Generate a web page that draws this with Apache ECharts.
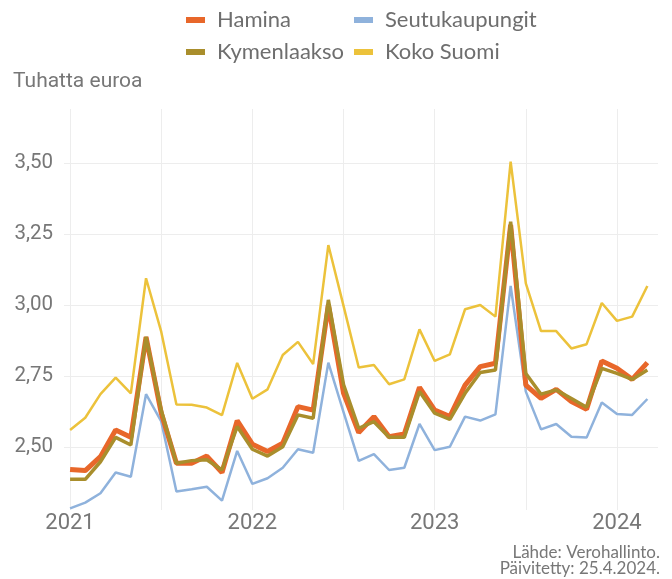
<!DOCTYPE html>
<html>
<head>
<meta charset="utf-8">
<script src="https://cdn.jsdelivr.net/npm/echarts@6/dist/echarts.min.js"></script>
<style>
  html, body { margin: 0; padding: 0; background: #fff; }
  #chart { width: 672px; height: 579px; }
</style>
</head>
<body>
<div id="chart"></div>
<script>
// kuukaudet 1/2021 - 3/2024
const months = [
  '2021-01', '2021-02', '2021-03', '2021-04', '2021-05', '2021-06', '2021-07', '2021-08', '2021-09', '2021-10', '2021-11', '2021-12',
  '2022-01', '2022-02', '2022-03', '2022-04', '2022-05', '2022-06', '2022-07', '2022-08', '2022-09', '2022-10', '2022-11', '2022-12',
  '2023-01', '2023-02', '2023-03', '2023-04', '2023-05', '2023-06', '2023-07', '2023-08', '2023-09', '2023-10', '2023-11', '2023-12',
  '2024-01', '2024-02', '2024-03'
]

const hamina = [
  2.421, 2.417, 2.466, 2.560, 2.534, 2.887, 2.620, 2.443, 2.443, 2.468, 2.410, 2.593,
  2.510, 2.484, 2.513, 2.642, 2.630, 3.000, 2.690, 2.551, 2.607, 2.536, 2.546, 2.710,
  2.630, 2.607, 2.718, 2.783, 2.795, 3.282, 2.718, 2.671, 2.703, 2.660, 2.633, 2.803,
  2.777, 2.738, 2.797
]
const seutukaupungit = [
  2.284, 2.304, 2.337, 2.410, 2.395, 2.686, 2.590, 2.343, 2.351, 2.360, 2.311, 2.486,
  2.370, 2.390, 2.427, 2.492, 2.480, 2.797, 2.623, 2.451, 2.475, 2.419, 2.427, 2.581,
  2.489, 2.501, 2.607, 2.593, 2.615, 3.067, 2.695, 2.562, 2.581, 2.536, 2.533, 2.657,
  2.616, 2.613, 2.669
]
const kymenlaakso = [
  2.386, 2.386, 2.448, 2.534, 2.507, 2.888, 2.630, 2.443, 2.452, 2.455, 2.419, 2.572,
  2.492, 2.468, 2.501, 2.613, 2.601, 3.018, 2.720, 2.566, 2.589, 2.534, 2.534, 2.695,
  2.619, 2.597, 2.689, 2.762, 2.771, 3.293, 2.759, 2.686, 2.701, 2.671, 2.640, 2.777,
  2.759, 2.738, 2.771
]
const kokoSuomi = [
  2.560, 2.603, 2.686, 2.744, 2.689, 3.094, 2.906, 2.650, 2.649, 2.639, 2.612, 2.796,
  2.670, 2.703, 2.824, 2.870, 2.792, 3.211, 2.997, 2.780, 2.789, 2.721, 2.738, 2.914,
  2.803, 2.826, 2.985, 3.000, 2.959, 3.505, 3.076, 2.908, 2.908, 2.847, 2.862, 3.007,
  2.944, 2.959, 3.067
]

const chart = echarts.init(document.getElementById('chart'), null, { renderer: 'canvas' })

const pairs = arr => months.map((m, i) => [i, arr[i]])
const grey = '#777'
const gridColor = '#ededed'

chart.setOption({
  animation: false,
  textStyle: { fontFamily: 'Roboto' },
  legend: {
    left: 181,
    top: 4,
    width: 370,
    itemWidth: 19,
    itemHeight: 6,
    itemGap: 10,
    icon: 'rect',
    textStyle: {
      fontFamily: 'Lato',
      fontSize: 22,
      color: '#6e6e6e',
      width: 127,
      lineHeight: 22,
      padding: [0, 0, 0, 7]
    },
    data: ['Hamina', 'Seutukaupungit', 'Kymenlaakso', 'Koko Suomi']
  },
  title: [
    {
      text: 'Tuhatta euroa',
      left: 8,
      top: 66,
      textStyle: { fontFamily: 'Roboto', fontSize: 21, fontWeight: 'normal', color: grey }
    },
    {
      text: 'Lähde: Verohallinto.',
      right: 7,
      top: 539,
      textStyle: { fontFamily: 'Lato', fontSize: 17, fontWeight: 'normal', color: grey }
    },
    {
      text: 'Päivitetty: 25.4.2024.',
      right: 7,
      top: 555,
      textStyle: { fontFamily: 'Lato', fontSize: 17, fontWeight: 'normal', color: grey }
    }
  ],
  grid: [
    // piirtoalue + vaakaviivat
    { left: 64, right: 14, top: 109, bottom: 61 },
    // pystyviivat ja vuosiotsikot
    { left: 70, right: 14, top: 109, bottom: 69 }
  ],
  xAxis: [
    {
      gridIndex: 0,
      type: 'value',
      min: -0.4,
      max: 38.7,
      show: false
    },
    {
      gridIndex: 1,
      type: 'value',
      min: 0,
      max: 38.7,
      interval: 6,
      axisLine: { show: false },
      axisTick: { show: false },
      axisLabel: {
        color: grey,
        fontSize: 22,
        margin: 2,
        showMaxLabel: false,
        formatter: v => (v % 12 === 0 && months[v]) ? months[v].slice(0, 4) : ''
      },
      splitLine: { show: true, showMaxLine: false, lineStyle: { color: gridColor, width: 1 } }
    }
  ],
  yAxis: [
    {
      gridIndex: 0,
      type: 'value',
      min: 2.25,
      max: 3.69,
      interval: 0.25,
      axisLine: { show: false },
      axisTick: { show: false },
      axisLabel: {
        color: grey,
        fontSize: 20.5,
        margin: 11,
        showMinLabel: false,
        showMaxLabel: false,
        formatter: v => v.toFixed(2).replace('.', ',')
      },
      splitLine: { show: true, showMinLine: false, showMaxLine: false, lineStyle: { color: gridColor, width: 1 } }
    },
    {
      gridIndex: 1,
      type: 'value',
      min: 0,
      max: 1,
      show: false
    }
  ],
  series: [
    {
      name: 'Hamina', type: 'line', data: pairs(hamina), symbol: 'none', z: 3,
      color: '#e8672a', lineStyle: { width: 5, color: '#e8672a' }
    },
    {
      name: 'Seutukaupungit', type: 'line', data: pairs(seutukaupungit), symbol: 'none', z: 2,
      color: '#8fb2dc', lineStyle: { width: 2.5, color: '#8fb2dc' }
    },
    {
      name: 'Kymenlaakso', type: 'line', data: pairs(kymenlaakso), symbol: 'none', z: 4,
      color: '#a98e2c', lineStyle: { width: 3.5, color: '#a98e2c' }
    },
    {
      name: 'Koko Suomi', type: 'line', data: pairs(kokoSuomi), symbol: 'none', z: 2,
      color: '#ecc23b', lineStyle: { width: 2.5, color: '#ecc23b' }
    }
  ]
})
</script>
</body>
</html>
